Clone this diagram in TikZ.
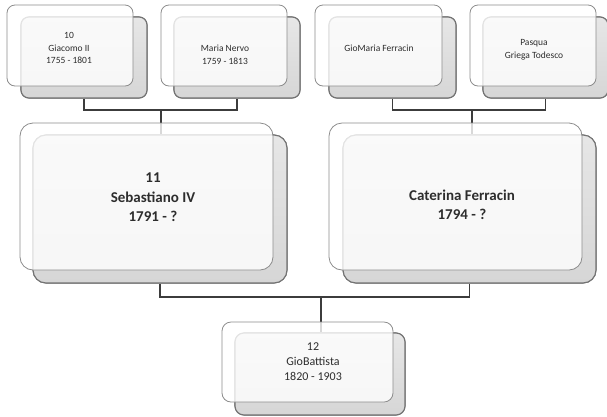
\documentclass[tikz,border=0pt]{standalone}
\usepackage{fontspec}
\setmainfont{Carlito}
\definecolor{backfill}{RGB}{214,214,214}
\definecolor{backline}{RGB}{115,115,115}
\definecolor{frontline}{RGB}{140,140,140}
\definecolor{connline}{RGB}{60,60,60}
\definecolor{txt}{RGB}{45,45,45}
\begin{document}
\begin{tikzpicture}[x=1pt,y=-1pt,
  backbox/.style={draw=backline, line width=1.1pt, top color=backfill!60, bottom color=backfill, rounded corners=#1, inner sep=0pt},
  frontbox/.style={draw=frontline, line width=0.8pt, fill=white, fill opacity=0.8, draw opacity=1, rounded corners=#1, inner sep=0pt},
  conn/.style={draw=connline, line width=1.6pt},
  smalltxt/.style={text=txt, font=\fontsize{9.5}{12.8}\selectfont, align=center, inner sep=0pt},
  bigtxt/.style={text=txt, font=\bfseries\fontsize{15}{19.5}\selectfont, align=center, inner sep=0pt},
  midtxt/.style={text=txt, font=\fontsize{12}{15}\selectfont, align=center, inner sep=0pt}
]
\useasboundingbox (0,0) rectangle (607,416);
% back boxes
\path (84,57.5) node[backbox=8pt, minimum width=126pt, minimum height=81pt] (b10) {};
\path (237,57.5) node[backbox=8pt, minimum width=126pt, minimum height=81pt] (b20) {};
\path (392.5,57.5) node[backbox=8pt, minimum width=127pt, minimum height=81pt] (b30) {};
\path (545.5,57.5) node[backbox=8pt, minimum width=125pt, minimum height=81pt] (b40) {};
\path (160,209) node[backbox=13pt, minimum width=254pt, minimum height=148pt] (b11) {};
\path (469.5,209) node[backbox=13pt, minimum width=253pt, minimum height=148pt] (b21) {};
\path (320,374) node[backbox=9pt, minimum width=170pt, minimum height=82pt] (b12) {};
% connectors
\coordinate (jA) at (161,110);
\coordinate (jB) at (472,110);
\coordinate (jC) at (321,297);
\draw[conn] (b10.south) |- (jA) -| (b20.south);
\draw[conn] (jA) -- (jA |- b11.north);
\draw[conn] (b30.south) |- (jB) -| (b40.south);
\draw[conn] (jB) -- (jB |- b21.north);
\draw[conn] (b11.south) |- (jC) -| (b21.south);
\draw[conn] (jC) -- (jC |- b12.north);
% redraw back boxes over connector ends
\path (84,57.5) node[backbox=8pt, minimum width=126pt, minimum height=81pt] {};
\path (237,57.5) node[backbox=8pt, minimum width=126pt, minimum height=81pt] {};
\path (392.5,57.5) node[backbox=8pt, minimum width=127pt, minimum height=81pt] {};
\path (545.5,57.5) node[backbox=8pt, minimum width=125pt, minimum height=81pt] {};
\path (160,209) node[backbox=13pt, minimum width=254pt, minimum height=148pt] {};
\path (469.5,209) node[backbox=13pt, minimum width=253pt, minimum height=148pt] {};
\path (320,374) node[backbox=9pt, minimum width=170pt, minimum height=82pt] {};
% front boxes
\path (70,45.5) node[frontbox=8pt, minimum width=126pt, minimum height=81pt] (f10) {};
\path (224,45.5) node[frontbox=8pt, minimum width=126pt, minimum height=81pt] (f20) {};
\path (378.5,45.5) node[frontbox=8pt, minimum width=127pt, minimum height=81pt] (f30) {};
\path (533,45.5) node[frontbox=8pt, minimum width=126pt, minimum height=81pt] (f40) {};
\path (146.5,196.5) node[frontbox=13pt, minimum width=253pt, minimum height=147pt] (f11) {};
\path (455.5,196.5) node[frontbox=13pt, minimum width=253pt, minimum height=147pt] (f21) {};
\path (307.5,362) node[frontbox=9pt, minimum width=171pt, minimum height=80pt] (f12) {};
% texts
\node[smalltxt] (t10) at (69,48) {10\\Giacomo II\\1755 - 1801};
\node[smalltxt] (t20) at (225,54.5) {Maria Nervo\\1759 - 1813};
\node[smalltxt] (t30) at (379,48.5) {GioMaria Ferracin};
\node[smalltxt] (t40) at (534,49.5) {Pasqua\\Griega Todesco};
\node[bigtxt] (t11) at (153,197.5) {11\\Sebastiano IV\\1791 - ?};
\node[bigtxt] (t21) at (462,205) {Caterina Ferracin\\1794 - ?};
\node[midtxt] (t12) at (313,362) {12\\GioBattista\\1820 - 1903};
\end{tikzpicture}
\end{document}
